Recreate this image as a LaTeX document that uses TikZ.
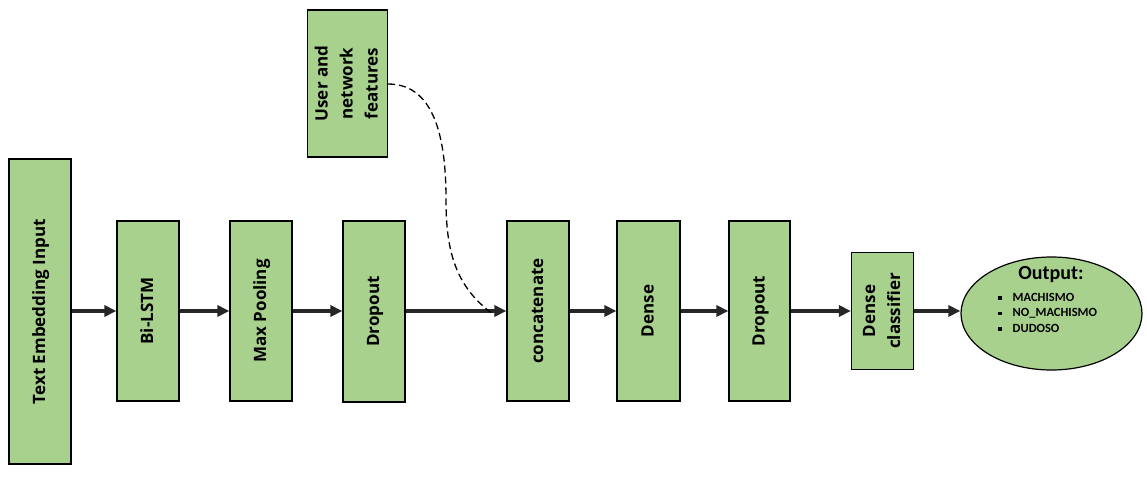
\documentclass[tikz,border=0pt]{standalone}
\usepackage{fontspec}
\setmainfont{Carlito}
\newfontfamily\boxfont{Open Sans}
\usetikzlibrary{arrows.meta,shapes.geometric}
\definecolor{layergreen}{HTML}{A9D18E}
\definecolor{flowgray}{HTML}{262626}
\tikzset{
  layer/.style={draw=black, line width=1.2pt, fill=layergreen, inner sep=0pt,
    font=\boxfont\fontsize{17}{25}\selectfont\bfseries},
  flow/.style={draw=flowgray, line width=3.5pt, -{Triangle[length=12pt,width=11pt]}},
  side/.style={draw=black, line width=1.3pt, dash pattern=on 7pt off 4pt},
}
\newcommand{\vtext}[1]{\rotatebox{90}{\begin{tabular}{@{}c@{}}#1\end{tabular}}}
\begin{document}
\begin{tikzpicture}[x=1pt,y=-1pt]
\useasboundingbox (0,0) rectangle (1147,478);

% layers of the network
\node[layer, minimum width=62pt, minimum height=305pt] (emb) at (40,311.5) {\vtext{Text Embedding Input}};
\node[layer, minimum width=62pt, minimum height=180pt] (lstm) at (148,311) {\vtext{Bi-LSTM}};
\node[layer, minimum width=62pt, minimum height=180pt] (pool) at (261,311) {\vtext{Max Pooling}};
\node[layer, minimum width=62pt, minimum height=181pt] (drop1) at (374,311.5) {\vtext{Dropout}};
\node[layer, minimum width=80pt, minimum height=147pt] (user) at (347.5,83.5) {\vtext{User and\\network\\features}};
\node[layer, minimum width=62pt, minimum height=180pt] (concat) at (538,311) {\vtext{concatenate}};
\node[layer, minimum width=63pt, minimum height=180pt] (dense) at (648.5,311) {\vtext{Dense}};
\node[layer, minimum width=61pt, minimum height=180pt] (drop2) at (759.5,311) {\vtext{Dropout}};
\node[layer, minimum width=62pt, minimum height=117pt] (dclass) at (882.5,311) {\vtext{Dense\\classifier}};

% output classes
\node[ellipse, draw=black, line width=1.2pt, fill=layergreen, inner sep=0pt,
  minimum width=181pt, minimum height=113pt] (out) at (1051.5,313.5) {};
\node[font=\fontsize{20}{24}\selectfont\bfseries] (outtitle) at (1051,275) {Output:};
\node[anchor=west, font=\fontsize{12.5}{15.5}\selectfont\bfseries, align=left, inner sep=0pt] (classes) at (998,312.5)
  {\rule[1.5pt]{3.5pt}{3.5pt}\hspace{11pt}MACHISMO\\
   \rule[1.5pt]{3.5pt}{3.5pt}\hspace{11pt}NO\_MACHISMO\\
   \rule[1.5pt]{3.5pt}{3.5pt}\hspace{11pt}DUDOSO};

% main flow
\draw[flow] (emb.east |- lstm) -- (lstm.west);
\draw[flow] (lstm) -- (pool);
\draw[flow] (pool.east) -- (drop1.west |- pool);
\draw[flow] (drop1.east |- concat) -- (concat.west);
\draw[flow] (concat) -- (dense);
\draw[flow] (dense) -- (drop2);
\draw[flow] (drop2) -- (dclass);
\draw[flow] (dclass.east) -- (out.west |- dclass);

% side input joining at the concatenation
\coordinate (bend) at (446,200);
\draw[side] (user.east |- 0,84) to[out=0,in=90] (bend) to[out=-90,in=145] ([xshift=-12pt,yshift=-4pt]concat.west);
\end{tikzpicture}
\end{document}
